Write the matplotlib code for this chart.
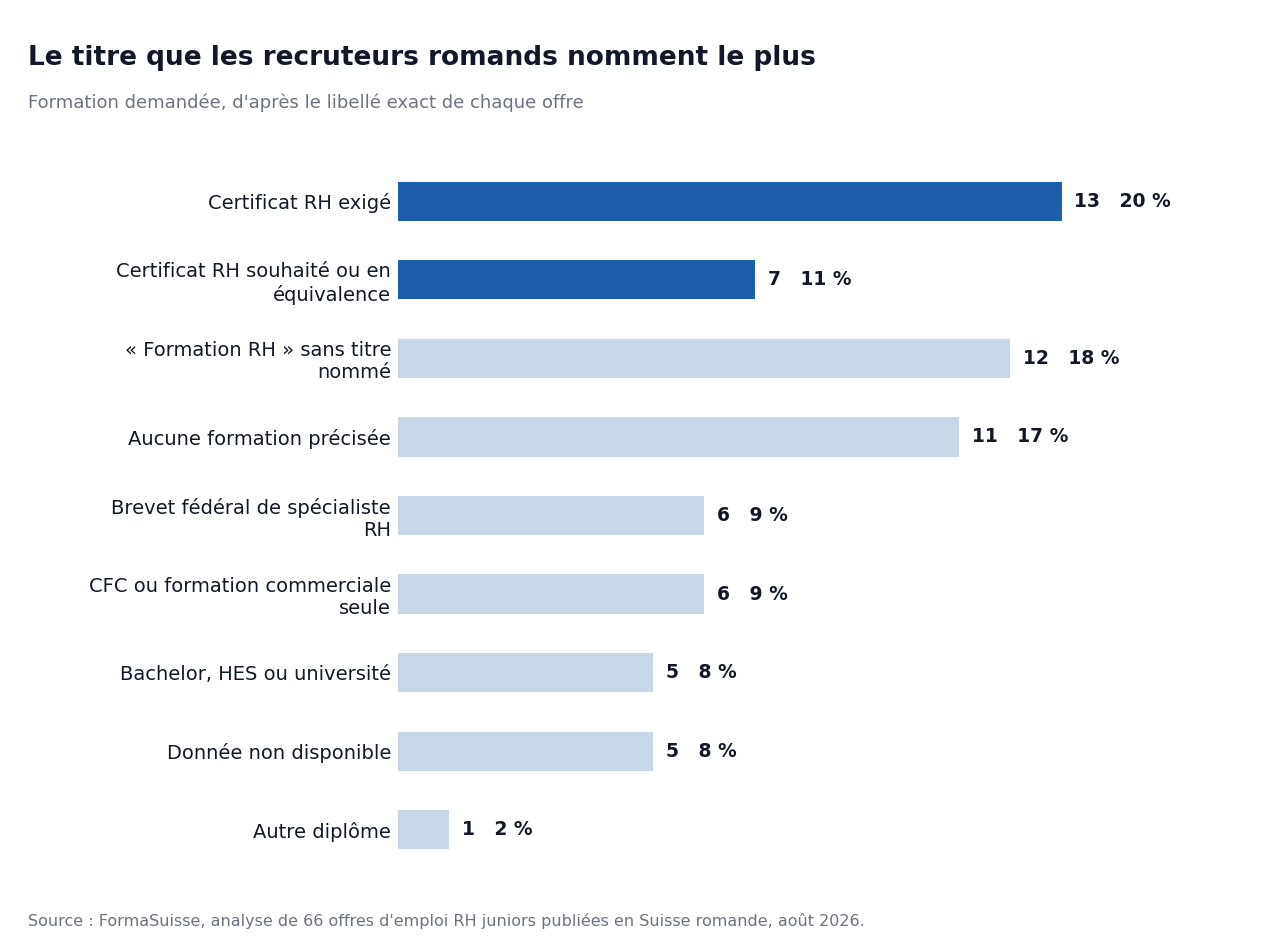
import matplotlib
matplotlib.use('Agg')
import matplotlib.pyplot as plt

categories = ["Certificat RH exigé", "Certificat RH souhaité ou en\néquivalence",
              "« Formation RH » sans titre\nnommé", "Aucune formation précisée",
              "Brevet fédéral de spécialiste\nRH", "CFC ou formation commerciale\nseule",
              "Bachelor, HES ou université", "Donnée non disponible", "Autre diplôme"]
counts = [13, 7, 12, 11, 6, 6, 5, 5, 1]
percents = [20, 11, 18, 17, 9, 9, 8, 8, 2]
highlight = [True, True, False, False, False, False, False, False, False]

dark = '#111827'
gray = '#6b7280'
fig = plt.figure(figsize=(12.65, 9.49), dpi=100)
ax = fig.add_axes([0.3146, 0.0843, 0.6577, 0.745])

y = range(len(categories))
colors = ['#1c5eaa' if h else '#c8d7e7' for h in highlight]
ax.barh(y, counts, height=0.5, color=colors)
for i, (c, p) in enumerate(zip(counts, percents)):
    ax.text(c + 0.25, i, f"{c}   {p} %", va='center', ha='left',
            fontsize=13.5, fontweight='bold', color=dark)

ax.set_ylim(8.5, -0.5)
ax.set_xlim(0, 16.3)
ax.set_yticks(list(y))
ax.set_yticklabels(categories, fontsize=14, color=dark)
ax.tick_params(axis='y', length=0, pad=5)
ax.set_xticks([])
for s in ax.spines.values():
    s.set_visible(False)

fig.text(28 / 1265, 1 - 58 / 949, "Le titre que les recruteurs romands nomment le plus",
         fontsize=19, fontweight='bold', color=dark, va='center')
fig.text(28 / 1265, 1 - 103 / 949, "Formation demandée, d'après le libellé exact de chaque offre",
         fontsize=13, color=gray, va='center')
fig.text(28 / 1265, 1 - 921 / 949,
         "Source : FormaSuisse, analyse de 66 offres d'emploi RH juniors publiées en Suisse romande, août 2026.",
         fontsize=11.5, color=gray, va='center')

fig.savefig('out.png', dpi=100)
